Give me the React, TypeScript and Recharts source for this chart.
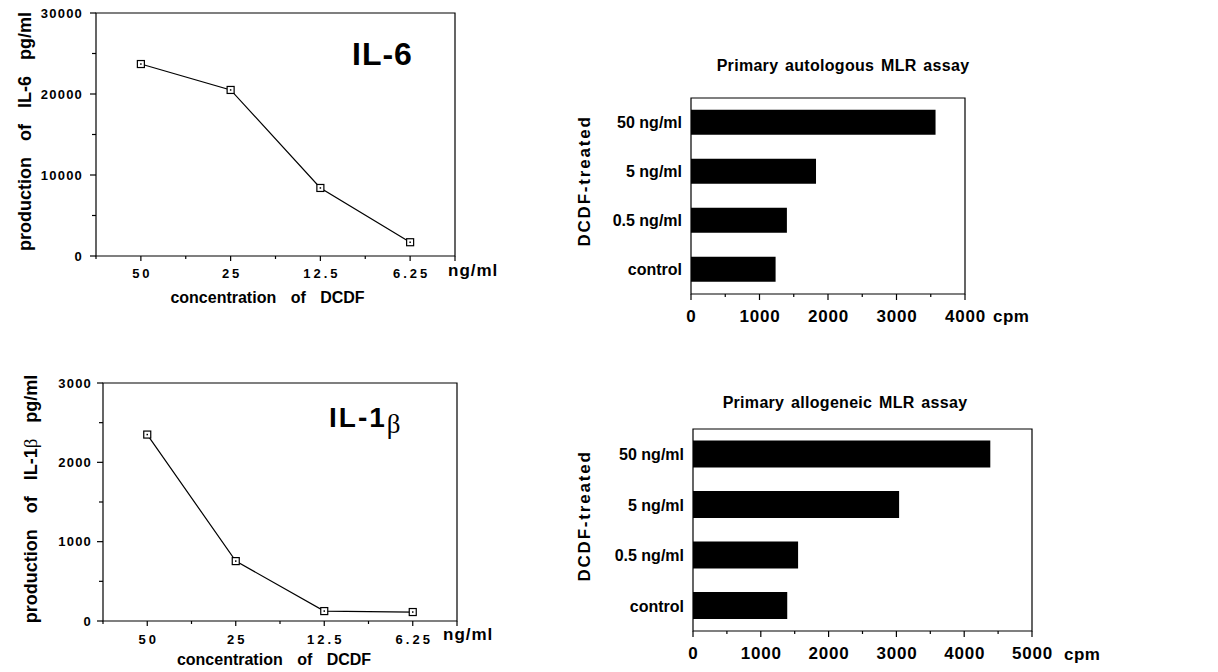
import React from 'react';
import { LineChart, Line, XAxis, YAxis, ReferenceArea, BarChart, Bar } from 'recharts';

const FONT = '"Liberation Sans", Arial, Helvetica, sans-serif';
const SERIF = '"Liberation Serif", "DejaVu Serif", serif';

// ---- data ----
const concentrations = ['50', '25', '12.5', '6.25'];
const il6Values = [23700, 20500, 8400, 1700];
const il1bValues = [2350, 755, 125, 113];
const positionTicks = [0, 0.5, 1, 1.5, 2, 2.5, 3, 3.5, 4];
const il6Ticks = [0, 5000, 10000, 15000, 20000, 25000, 30000];
const il6Labeled = [0, 10000, 20000, 30000];
const il1bTicks = [0, 500, 1000, 1500, 2000, 2500, 3000];
const il1bLabeled = [0, 1000, 2000, 3000];

const treatments = ['50 ng/ml', '5 ng/ml', '0.5 ng/ml', 'control'];
const autologousCpm = [3570, 1825, 1400, 1235];
const allogeneicCpm = [4385, 3040, 1550, 1390];
const autoTicks = [0, 500, 1000, 1500, 2000, 2500, 3000, 3500, 4000];
const autoLabeled = [0, 1000, 2000, 3000, 4000];
const alloTicks = [0, 500, 1000, 1500, 2000, 2500, 3000, 3500, 4000, 4500, 5000];
const alloLabeled = [0, 1000, 2000, 3000, 4000, 5000];

const il6Data = concentrations.map((c, i) => ({ x: i + 0.5, label: c, v: il6Values[i] }));
const il1bData = concentrations.map((c, i) => ({ x: i + 0.5, label: c, v: il1bValues[i] }));
const autoData = treatments.map((t, i) => ({ label: t, v: autologousCpm[i] }));
const alloData = treatments.map((t, i) => ({ label: t, v: allogeneicCpm[i] }));

const bold = { fontFamily: FONT, fontWeight: 700, fill: '#000' } as const;

// ---- ticks ----
const makeLineXTick = (labelDy: number) => (props: any) => {
  const { x, y, payload } = props;
  const v = payload.value as number;
  const isCat = Math.abs(v - Math.round(v)) > 0.1;
  if (!isCat) {
    return <line x1={x} x2={x} y1={y} y2={y + (v === 4 ? 5 : 3)} stroke="#000" strokeWidth={1.2} />;
  }
  return (
    <g>
      <line x1={x} x2={x} y1={y} y2={y + 5} stroke="#000" strokeWidth={1.2} />
      <text x={x + 1.5} y={y + labelDy} textAnchor="middle" fontSize={13} letterSpacing={3} {...bold}>
        {concentrations[Math.floor(v)]}
      </text>
    </g>
  );
};

const makeLineYTick = (labeled: number[], gap: number) => (props: any) => {
  const { x, y, payload } = props;
  const major = labeled.includes(payload.value);
  return (
    <g>
      <line x1={x - (major ? 6 : 4)} x2={x} y1={y} y2={y} stroke="#000" strokeWidth={1.2} />
      {major && (
        <text x={x - gap} y={y} dy="0.36em" textAnchor="end" fontSize={13} letterSpacing={1.2} {...bold}>
          {payload.value}
        </text>
      )}
    </g>
  );
};

const makeBarXTick = (labeled: number[]) => (props: any) => {
  const { x, y, payload } = props;
  const major = labeled.includes(payload.value);
  return (
    <g>
      <line x1={x} x2={x} y1={y} y2={y + (major ? 6 : 3)} stroke="#000" strokeWidth={1.2} />
      {major && (
        <text x={x + 0.5} y={y + 28} textAnchor="middle" fontSize={17} letterSpacing={0.8} {...bold}>
          {payload.value}
        </text>
      )}
    </g>
  );
};

const BarYTick = (props: any) => {
  const { x, y, payload } = props;
  return (
    <text x={x - 9} y={y} dy="0.36em" textAnchor="end" fontSize={16} {...bold}>
      {payload.value}
    </text>
  );
};

const SquareDot = (props: any) => {
  const { cx, cy, index } = props;
  if (cx == null || cy == null) return <g key={`d${index}`} />;
  return (
    <g key={`d${index}`}>
      <rect x={cx - 3.5} y={cy - 3.5} width={7} height={7} fill="#fff" stroke="#000" strokeWidth={1.2} />
      <rect x={cx - 0.75} y={cy - 0.75} width={1.5} height={1.5} fill="#000" />
    </g>
  );
};

// ---- panels ----
type LinePanelProps = {
  data: any[];
  yMax: number;
  yTicks: number[];
  yLabeled: number[];
  width: number;
  height: number;
  top: number;
  right: number;
  yAxisWidth: number;
  xAxisHeight: number;
  tickGap: number;
  labelDy: number;
  title: (vb: any) => React.ReactNode;
  yLabel: React.ReactNode;
  yLabelX: number;
  yLabelDy: number;
  unitDx: number;
  unitDy: number;
  xTitleDy: number;
  xTitleDx: number;
};

const LinePanel = (p: LinePanelProps) => (
  <LineChart
    width={p.width}
    height={p.height}
    data={p.data}
    margin={{ top: p.top, right: p.right, bottom: 0, left: 0 }}
  >
    <XAxis
      type="number"
      dataKey="x"
      domain={[0, 4]}
      ticks={positionTicks}
      interval={0}
      height={p.xAxisHeight}
      axisLine={false}
      tickLine={false}
      tickSize={0}
      tickMargin={0}
      tick={makeLineXTick(p.labelDy)}
      label={(lp: any) => {
        const vb = lp.viewBox;
        return (
          <g>
            <text x={vb.x + vb.width + p.unitDx} y={vb.y + p.unitDy} fontSize={17} letterSpacing={1} {...bold}>
              ng/ml
            </text>
            <text
              x={vb.x + vb.width / 2 + p.xTitleDx}
              y={vb.y + p.xTitleDy}
              textAnchor="middle"
              fontSize={16}
              wordSpacing={10}
              {...bold}
            >
              concentration of DCDF
            </text>
          </g>
        );
      }}
    />
    <YAxis
      type="number"
      domain={[0, p.yMax]}
      ticks={p.yTicks}
      interval={0}
      width={p.yAxisWidth}
      axisLine={false}
      tickLine={false}
      tickSize={0}
      tickMargin={0}
      tick={makeLineYTick(p.yLabeled, p.tickGap)}
      label={(lp: any) => {
        const vb = lp.viewBox;
        const cx = vb.x + p.yLabelX;
        const cy = vb.y + vb.height / 2 + p.yLabelDy;
        return (
          <text
            x={cx}
            y={cy}
            transform={`rotate(-90 ${cx} ${cy})`}
            textAnchor="middle"
            fontSize={18}
            wordSpacing={11}
            {...bold}
          >
            {p.yLabel}
          </text>
        );
      }}
    />
    <ReferenceArea
      x1={0}
      x2={4}
      y1={0}
      y2={p.yMax}
      fill="none"
      fillOpacity={0}
      stroke="#000"
      strokeWidth={1.2}
      ifOverflow="visible"
      label={(lp: any) => p.title(lp.viewBox)}
    />
    <Line
      type="linear"
      dataKey="v"
      stroke="#000"
      strokeWidth={1.2}
      isAnimationActive={false}
      dot={(dp: any) => <SquareDot key={`d${dp.index}`} {...dp} />}
      activeDot={false}
    />
  </LineChart>
);

type BarPanelProps = {
  data: any[];
  xMax: number;
  xTicks: number[];
  xLabeled: number[];
  width: number;
  height: number;
  top: number;
  right: number;
  yAxisWidth: number;
  xAxisHeight: number;
  title: string;
  titleDx: number;
  titleDy: number;
  cpmDx: number;
  cpmDy: number;
  yLabelX: number;
  yLabelDy: number;
  gap: string;
};

const BarPanel = (p: BarPanelProps) => (
  <BarChart
    layout="vertical"
    width={p.width}
    height={p.height}
    data={p.data}
    margin={{ top: p.top, right: p.right, bottom: 0, left: 0 }}
    barCategoryGap={p.gap}
  >
    <XAxis
      type="number"
      domain={[0, p.xMax]}
      ticks={p.xTicks}
      interval={0}
      height={p.xAxisHeight}
      axisLine={false}
      tickLine={false}
      tickSize={0}
      tickMargin={0}
      tick={makeBarXTick(p.xLabeled)}
      label={(lp: any) => {
        const vb = lp.viewBox;
        return (
          <text x={vb.x + vb.width + p.cpmDx} y={vb.y + p.cpmDy} fontSize={17} letterSpacing={0.5} {...bold}>
            cpm
          </text>
        );
      }}
    />
    <YAxis
      type="category"
      dataKey="label"
      width={p.yAxisWidth}
      axisLine={false}
      tickLine={false}
      tickSize={0}
      tickMargin={0}
      tick={BarYTick}
      label={(lp: any) => {
        const vb = lp.viewBox;
        const cx = vb.x + p.yLabelX;
        const cy = vb.y + vb.height / 2 + p.yLabelDy;
        return (
          <text
            x={cx}
            y={cy}
            transform={`rotate(-90 ${cx} ${cy})`}
            textAnchor="middle"
            fontSize={17}
            letterSpacing={1.8}
            {...bold}
          >
            DCDF-treated
          </text>
        );
      }}
    />
    <ReferenceArea
      x1={0}
      x2={p.xMax}
      fill="none"
      fillOpacity={0}
      stroke="#000"
      strokeWidth={1.2}
      ifOverflow="visible"
      label={(lp: any) => {
        const vb = lp.viewBox;
        return (
          <text
            x={vb.x + p.titleDx}
            y={vb.y + p.titleDy}
            textAnchor="middle"
            fontSize={16}
            letterSpacing={0.3}
            wordSpacing={2}
            {...bold}
          >
            {p.title}
          </text>
        );
      }}
    />
    <Bar dataKey="v" fill="#000" isAnimationActive={false} />
  </BarChart>
);

const pos = (left: number, top: number): React.CSSProperties => ({ position: 'absolute', left, top });

export default function App() {
  return (
    <div style={{ position: 'absolute', left: 0, top: 0, width: 1218, height: 672, background: '#fff', overflow: 'hidden' }}>
      <div style={pos(0, 0)}>
        <LinePanel
          data={il6Data}
          yMax={30000}
          yTicks={il6Ticks}
          yLabeled={il6Labeled}
          width={560}
          height={320}
          top={13}
          right={105}
          yAxisWidth={96}
          xAxisHeight={64}
          tickGap={13}
          labelDy={22}
          title={(vb: any) => (
            <text x={vb.x + 256} y={vb.y + 52} fontSize={32} letterSpacing={1} {...bold}>
              IL-6
            </text>
          )}
          yLabel="production of IL-6 pg/ml"
          yLabelX={31}
          yLabelDy={-3}
          unitDx={-7}
          unitDy={20}
          xTitleDy={47}
          xTitleDx={-8}
        />
      </div>
      <div style={pos(0, 340)}>
        <LinePanel
          data={il1bData}
          yMax={3000}
          yTicks={il1bTicks}
          yLabeled={il1bLabeled}
          width={560}
          height={332}
          top={43}
          right={103}
          yAxisWidth={103}
          xAxisHeight={51}
          tickGap={11}
          labelDy={23}
          title={(vb: any) => (
            <text x={vb.x + 226} y={vb.y + 44} fontSize={28} letterSpacing={2} {...bold}>
              IL-1
              <tspan fontFamily={SERIF} fontWeight={400} fontSize={27} dy={6} letterSpacing={0}>
                β
              </tspan>
            </text>
          )}
          yLabel={
            <>
              production of IL-1
              <tspan fontFamily={SERIF} fontWeight={400} fontSize={19}>β</tspan> pg/ml
            </>
          }
          yLabelX={37}
          yLabelDy={-3}
          unitDx={-14}
          unitDy={19}
          xTitleDy={44}
          xTitleDx={-6}
        />
      </div>
      <div style={pos(560, 40)}>
        <BarPanel
          data={autoData}
          xMax={4000}
          xTicks={autoTicks}
          xLabeled={autoLabeled}
          width={658}
          height={300}
          top={58}
          right={253}
          yAxisWidth={131}
          xAxisHeight={46}
          title="Primary autologous MLR assay"
          titleDx={152}
          titleDy={-27}
          cpmDx={28}
          cpmDy={28}
          yLabelX={30}
          yLabelDy={-15}
          gap="24%"
        />
      </div>
      <div style={pos(560, 370)}>
        <BarPanel
          data={alloData}
          xMax={5000}
          xTicks={alloTicks}
          xLabeled={alloLabeled}
          width={658}
          height={302}
          top={59}
          right={186}
          yAxisWidth={133}
          xAxisHeight={41}
          title="Primary allogeneic MLR assay"
          titleDx={152}
          titleDy={-21}
          cpmDx={32}
          cpmDy={29}
          yLabelX={30}
          yLabelDy={-14}
          gap="23%"
        />
      </div>
    </div>
  );
}
